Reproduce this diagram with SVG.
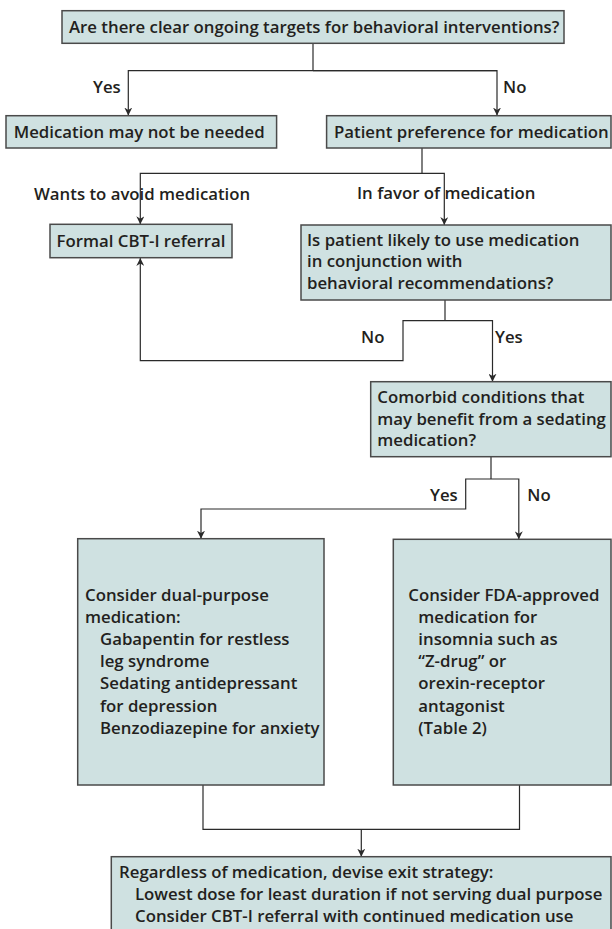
<svg xmlns="http://www.w3.org/2000/svg" width="612" height="929" viewBox="0 0 612 929">
<style>
.box{fill:#cfe1e1;stroke:#4a4a4a;stroke-width:1.5}
.t{font-family:"Open Sans","Noto Sans","DejaVu Sans",sans-serif;font-weight:600;font-size:16.8px;fill:#231f20}
.c{fill:none;stroke:#2a2a2a;stroke-width:1.2}
</style>
<defs>
<marker id="ah" viewBox="0 0 10 10" refX="10" refY="5" markerWidth="8" markerHeight="8" orient="auto" markerUnits="userSpaceOnUse">
<path d="M0,0 L10,5 L0,10 L3,5 z" fill="#2a2a2a"/>
</marker>
</defs>
<rect width="612" height="929" fill="#ffffff"/>
<g id="connectors">
<path class="c" d="M313,43.3 V70.7"/>
<path class="c" d="M497,70.7 H128.3 V115.5" marker-end="url(#ah)"/>
<path class="c" d="M313,70.7 H497 V115.5" marker-end="url(#ah)"/>
<path class="c" d="M422,148 V173.3"/>
<path class="c" d="M422,173.3 H140.3 V224.3" marker-end="url(#ah)"/>
<path class="c" d="M422,173.3 H444.3 V225" marker-end="url(#ah)"/>
<path class="c" d="M445,300 V320.7"/>
<path class="c" d="M445,320.7 H403 V360.7 H140.3 V258" marker-end="url(#ah)"/>
<path class="c" d="M445,320.7 H492.5 V381.7" marker-end="url(#ah)"/>
<path class="c" d="M491,456.7 V479"/>
<path class="c" d="M491,479 H465.7 V509 H201 V538.7" marker-end="url(#ah)"/>
<path class="c" d="M491,479 H518.8 V539.3" marker-end="url(#ah)"/>
<path class="c" d="M203,785 V829.3 H519.5 V785"/>
<path class="c" d="M361.3,829.3 V856.7" marker-end="url(#ah)"/>
</g>
<g id="labels">
<text class="t" x="93" y="93">Yes</text>
<text class="t" x="503" y="93">No</text>
<text class="t" x="34" y="200">Wants to avoid medication</text>
<text class="t" x="357" y="199">In favor of medication</text>
<text class="t" x="361" y="343">No</text>
<text class="t" x="495" y="343">Yes</text>
<text class="t" x="430" y="500.7">Yes</text>
<text class="t" x="527.3" y="500.7">No</text>
</g>
<g id="n_targets">
<rect class="box" x="62" y="10.7" width="502" height="32.6"/>
<text class="t" x="69" y="33">Are there clear ongoing targets for behavioral interventions?</text>
</g>
<g id="n_notneeded">
<rect class="box" x="6" y="115.7" width="270.6" height="32.3"/>
<text class="t" x="13.7" y="138">Medication may not be needed</text>
</g>
<g id="n_preference">
<rect class="box" x="326.6" y="115.7" width="284.4" height="32.3"/>
<text class="t" x="334" y="138">Patient preference for medication</text>
</g>
<g id="n_cbti">
<rect class="box" x="50" y="224.3" width="182" height="33.4"/>
<text class="t" x="56.6" y="247">Formal CBT-I referral</text>
</g>
<g id="n_likely">
<rect class="box" x="301" y="225" width="310" height="75"/>
<text class="t" x="307" y="245.5">Is patient likely to use medication</text>
<text class="t" x="307" y="267">in conjunction with</text>
<text class="t" x="307" y="288.5">behavioral recommendations?</text>
</g>
<g id="n_comorbid">
<rect class="box" x="370.7" y="381.7" width="240.3" height="75"/>
<text class="t" x="377.3" y="403">Comorbid conditions that</text>
<text class="t" x="377.3" y="424.5">may benefit from a sedating</text>
<text class="t" x="377.3" y="446">medication?</text>
</g>
<g id="n_dual">
<rect class="box" x="77.7" y="538.7" width="246.3" height="246.3"/>
<text class="t" x="85" y="601">Consider dual-purpose</text>
<text class="t" x="85" y="623">medication:</text>
<text class="t" x="100" y="645">Gabapentin for restless</text>
<text class="t" x="100" y="667">leg syndrome</text>
<text class="t" x="100" y="689">Sedating antidepressant</text>
<text class="t" x="100" y="711.5">for depression</text>
<text class="t" x="100" y="734">Benzodiazepine for anxiety</text>
</g>
<g id="n_fda">
<rect class="box" x="393.3" y="539.3" width="217.7" height="245.7"/>
<text class="t" x="408.3" y="601">Consider FDA-approved</text>
<text class="t" x="418.3" y="623">medication for</text>
<text class="t" x="418.3" y="645">insomnia such as</text>
<text class="t" x="418.3" y="667">“Z-drug” or</text>
<text class="t" x="418.3" y="689">orexin-receptor</text>
<text class="t" x="418.3" y="711.5">antagonist</text>
<text class="t" x="418.3" y="734">(Table 2)</text>
</g>
<g id="n_exit">
<rect class="box" x="111.3" y="856.7" width="499.7" height="80"/>
<text class="t" x="119" y="878">Regardless of medication, devise exit strategy:</text>
<text class="t" x="135" y="900">Lowest dose for least duration if not serving dual purpose</text>
<text class="t" x="135" y="922">Consider CBT-I referral with continued medication use</text>
</g>
</svg>
